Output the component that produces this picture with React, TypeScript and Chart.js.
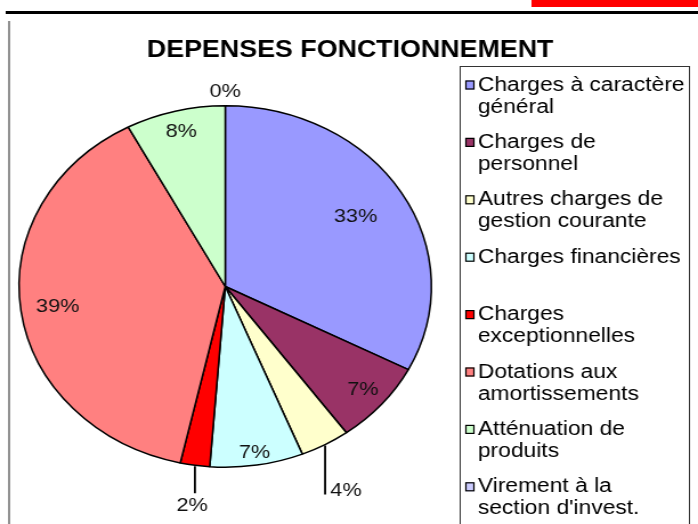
import React, { useEffect, useRef } from "react";
import { Chart, registerables } from "chart.js";

Chart.register(...registerables);

// ---- data ----
const title = "DEPENSES FONCTIONNEMENT";
const categories: string[][] = [
  ["Charges à caractère", "général"],
  ["Charges de", "personnel"],
  ["Autres charges de", "gestion courante"],
  ["Charges financières"],
  ["Charges", "exceptionnelles"],
  ["Dotations aux", "amortissements"],
  ["Atténuation de", "produits"],
  ["Virement à la", "section d'invest."],
];
const values = [32.6, 7.4, 3.9, 7.3, 2.3, 38.7, 7.8, 0];
const colors = [
  "#9999FF",
  "#993366",
  "#FFFFCC",
  "#CCFFFF",
  "#FF0000",
  "#FF8080",
  "#CCFFCC",
  "#CCCCFF",
];

// label placement style per slice (radius fraction or leader line)
type Place =
  | { kind: "in"; r: number }
  | { kind: "leaderRight"; len: number }
  | { kind: "leaderBelow"; len: number };
const labelPlacement: Place[] = [
  { kind: "in", r: 0.74 },
  { kind: "in", r: 0.88 },
  { kind: "leaderRight", len: 50 },
  { kind: "in", r: 0.93 },
  { kind: "leaderBelow", len: 28 },
  { kind: "in", r: 0.82 },
  { kind: "in", r: 0.88 },
  { kind: "in", r: 1.08 },
];

const CANVAS_W = 612;
const CANVAS_H = 524;
const FONT = "'Liberation Sans', Arial, Helvetica, sans-serif";

const decor = {
  id: "decor",
  beforeDraw(chart: any) {
    const ctx: CanvasRenderingContext2D = chart.ctx;
    const W = chart.width;
    const H = chart.height;
    ctx.save();
    ctx.fillStyle = "#ffffff";
    ctx.fillRect(0, 0, W, H);
    // red tab top right
    ctx.fillStyle = "#FF0000";
    ctx.fillRect(466, 0, W - 466, 7);
    // black rule
    ctx.fillStyle = "#000000";
    ctx.fillRect(5, 11, W - 5, 3);
    // left vertical rule
    ctx.fillStyle = "#222222";
    ctx.fillRect(7.5, 21, 1, H - 21);
    // title
    ctx.fillStyle = "#000000";
    ctx.font = `bold 23.5px ${FONT}`;
    ctx.textAlign = "center";
    ctx.textBaseline = "alphabetic";
    ctx.fillText(title, 307, 57);

    // legend
    const bx = 403.5;
    const by = 66.5;
    const bw = 201;
    ctx.strokeStyle = "#333333";
    ctx.lineWidth = 1;
    ctx.strokeRect(bx, by, bw, H + 10 - by);
    const labels: string[][] = chart.data.labels;
    const bg: string[] = chart.data.datasets[0].backgroundColor;
    ctx.font = `20px ${FONT}`;
    ctx.textAlign = "left";
    ctx.textBaseline = "middle";
    labels.forEach((lines, i) => {
      const y0 = 85 + i * 57.4;
      ctx.fillStyle = bg[i];
      ctx.fillRect(408, y0 - 4.5, 8, 9);
      ctx.strokeStyle = "#000000";
      ctx.lineWidth = 1.2;
      ctx.strokeRect(408.5, y0 - 4, 7, 8);
      ctx.fillStyle = "#000000";
      lines.forEach((ln, j) => {
        ctx.fillText(ln, 419, y0 + j * 22);
      });
    });
    ctx.restore();
  },
  afterDatasetsDraw(chart: any) {
    const ctx: CanvasRenderingContext2D = chart.ctx;
    const meta = chart.getDatasetMeta(0);
    const data: number[] = chart.data.datasets[0].data;
    const total = data.reduce((a, b) => a + b, 0);
    ctx.save();
    ctx.font = `19px ${FONT}`;
    ctx.fillStyle = "#111111";
    ctx.strokeStyle = "#000000";
    meta.data.forEach((arc: any, i: number) => {
      const p = arc.getProps(["x", "y", "startAngle", "endAngle", "outerRadius"], true);
      const mid = (p.startAngle + p.endAngle) / 2;
      const txt = Math.round((data[i] / total) * 100) + "%";
      const pl = labelPlacement[i];
      const ex = p.x + Math.cos(mid) * p.outerRadius;
      const ey = p.y + Math.sin(mid) * p.outerRadius;
      if (pl.kind === "in") {
        ctx.textAlign = "center";
        ctx.textBaseline = "middle";
        ctx.fillText(
          txt,
          p.x + Math.cos(mid) * p.outerRadius * pl.r,
          p.y + Math.sin(mid) * p.outerRadius * pl.r
        );
      } else if (pl.kind === "leaderRight") {
        ctx.lineWidth = 1.8;
        ctx.beginPath();
        ctx.moveTo(ex, ey + 1);
        ctx.lineTo(ex, ey + pl.len);
        ctx.stroke();
        ctx.textAlign = "left";
        ctx.textBaseline = "middle";
        ctx.fillText(txt, ex + 4.5, ey + pl.len - 4);
      } else {
        ctx.lineWidth = 1.8;
        ctx.beginPath();
        ctx.moveTo(ex, ey + 1);
        ctx.lineTo(ex, ey + pl.len);
        ctx.stroke();
        ctx.textAlign = "center";
        ctx.textBaseline = "middle";
        ctx.fillText(txt, ex - 2.5, ey + pl.len + 12);
      }
    });
    ctx.restore();
  },
};

export default function App() {
  const ref = useRef<HTMLCanvasElement | null>(null);
  useEffect(() => {
    if (!ref.current) return;
    const chart = new Chart(ref.current, {
      type: "pie",
      data: {
        labels: categories as any,
        datasets: [
          {
            data: values,
            backgroundColor: colors,
            borderColor: "#000000",
            borderWidth: 1.5,
          },
        ],
      },
      options: {
        responsive: false,
        animation: false,
        devicePixelRatio: 1,
        layout: { padding: { left: 16, right: 233, top: 105, bottom: 56 } },
        plugins: {
          legend: { display: false },
          title: { display: false },
          tooltip: { enabled: false },
        },
      },
      plugins: [decor as any],
    });
    return () => chart.destroy();
  }, []);
  return (
    <div style={{ position: "fixed", left: 0, top: 0, width: 698, height: 524, background: "#fff" }}>
      <canvas
        ref={ref}
        width={CANVAS_W}
        height={CANVAS_H}
        style={{ width: "698px", height: "524px", display: "block" }}
      />
    </div>
  );
}
